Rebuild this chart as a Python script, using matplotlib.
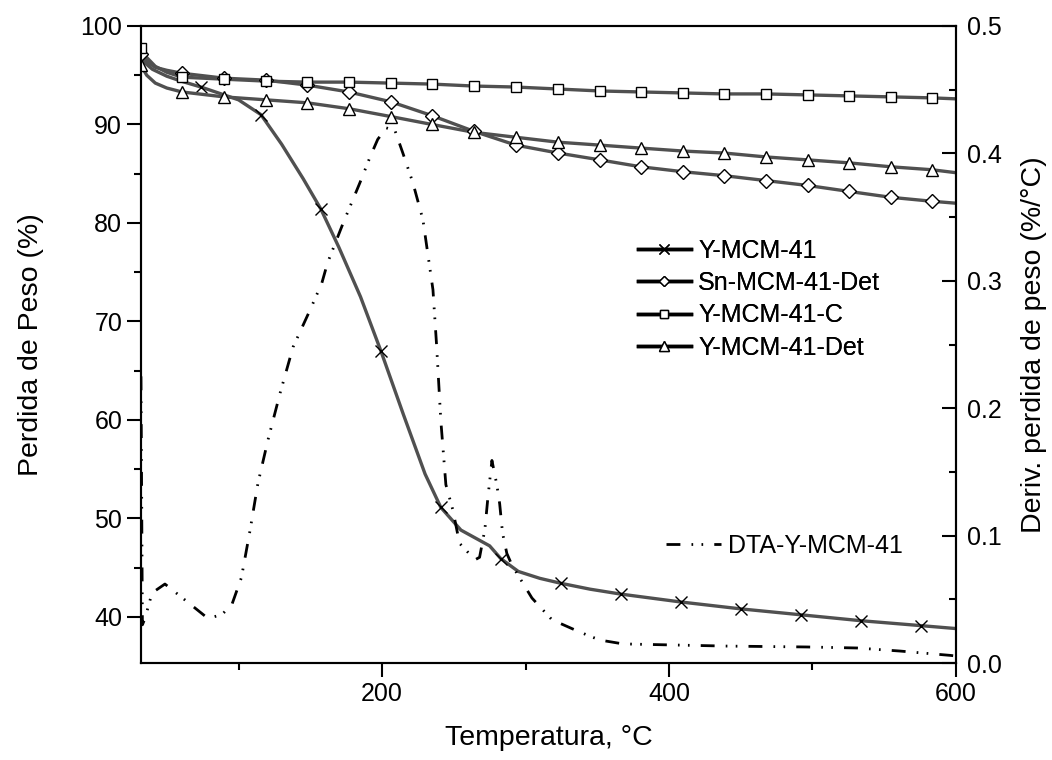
import matplotlib
matplotlib.use("Agg")
import matplotlib.pyplot as plt
from matplotlib.lines import Line2D
from matplotlib.ticker import MultipleLocator

plt.rcParams['font.family'] = ['Liberation Sans', 'DejaVu Sans']

# --- data (temperature in °C) ---
# Y-MCM-41, weight curve and its x markers
y41_t = [32, 40, 50, 60, 73.8, 90, 100, 115.6, 130, 145, 157.4, 170, 185, 199.2,
         215, 230, 241, 255, 270, 275, 282.8, 295, 310, 324.6, 345, 366.4, 408.2,
         450, 491.8, 533.6, 575.4, 600]
y41_w = [96.6, 95.6, 94.9, 94.4, 93.8, 93.0, 92.5, 91.0, 88.0, 84.5, 81.4, 77.5,
         72.5, 67.0, 60.5, 54.5, 51.1, 48.8, 47.6, 47.2, 45.9, 44.6, 43.9, 43.4,
         42.8, 42.3, 41.5, 40.8, 40.2, 39.6, 39.1, 38.8]
y41_mt = [73.8, 115.6, 157.4, 199.2, 241, 282.8, 324.6, 366.4, 408.2, 450, 491.8, 533.6, 575.4]
y41_mw = [93.8, 91.0, 81.4, 67.0, 51.1, 45.9, 43.4, 42.3, 41.5, 40.8, 40.2, 39.6, 39.1]

# the other three samples share marker temperatures
mk_t = [32, 60.6, 89.8, 119.1, 147.7, 176.9, 206.2, 234.8, 264.1, 293.3, 322.6,
        351.9, 380.4, 409.7, 438.3, 467.5, 496.8, 525.4, 554.6, 583.2]
sn_det = [97.2, 95.2, 94.7, 94.5, 94.0, 93.3, 92.3, 90.9, 89.3, 87.9, 87.1,
          86.4, 85.7, 85.2, 84.8, 84.3, 83.8, 83.2, 82.6, 82.2]
y41_c = [97.8, 94.8, 94.6, 94.4, 94.3, 94.3, 94.2, 94.1, 93.9, 93.8, 93.6,
         93.4, 93.3, 93.2, 93.1, 93.1, 93.0, 92.9, 92.8, 92.7]
y41_det = [96.0, 93.3, 92.8, 92.5, 92.2, 91.6, 90.8, 90.0, 89.2, 88.7, 88.2,
           87.9, 87.6, 87.3, 87.1, 86.7, 86.4, 86.1, 85.7, 85.4]
# early part of the curves (before first marker) and end value at 600 °C
early_t = [36, 42, 50]
sn_early = [96.4, 95.8, 95.5]
c_early = [96.8, 95.9, 95.3]
det_early = [95.0, 94.2, 93.7]
end_t = 600
sn_end, c_end, det_end = 82.0, 92.6, 85.1

# DTA-Y-MCM-41 (right axis, %/°C)
dta_t = [32, 33, 34.8, 39.7, 48.7, 61, 78.7, 88.4, 95.4, 102, 108, 113.5, 120.5,
         129, 138, 149.8, 158, 162, 172.8, 184.6, 191.6, 197, 203, 209, 214.6,
         221.5, 228.5, 235.5, 238, 241, 244.5, 249.4, 254, 264.8, 268, 271.7,
         273.8, 276.6, 280, 282, 284, 287, 290.5, 298, 304.5, 318.4, 334.4, 345,
         352, 368, 409.7, 440, 496, 531, 561, 596, 600]
dta_v = [0.225, 0.030, 0.035, 0.055, 0.062, 0.051, 0.035, 0.038, 0.046, 0.067,
         0.104, 0.141, 0.175, 0.212, 0.248, 0.277, 0.298, 0.314, 0.345, 0.377,
         0.397, 0.411, 0.420, 0.418, 0.400, 0.377, 0.348, 0.293, 0.250, 0.190,
         0.140, 0.120, 0.094, 0.081, 0.083, 0.105, 0.130, 0.159, 0.140, 0.125,
         0.102, 0.086, 0.077, 0.063, 0.051, 0.034, 0.026, 0.021, 0.018, 0.015,
         0.014, 0.0133, 0.0126, 0.0118, 0.0094, 0.006, 0.0055]

gray = '#505050'
dta_ls = (0, (5, 4, 0.6, 3, 0.6, 4))

fig = plt.figure(figsize=(10.52, 7.6), dpi=100)
ax = fig.add_axes([0.134, 0.1276, 0.7747, 0.8382])
ax2 = ax.twinx()

ax.plot(y41_t, y41_w, color=gray, lw=2.4)
ax.plot(y41_mt, y41_mw, ls='none', marker='x', ms=9, mew=1.0, color='black')

def tga(vals, early, end, marker, ms):
    t = [mk_t[0]] + early_t + mk_t[1:] + [end_t]
    w = [vals[0]] + early + vals[1:] + [end]
    ax.plot(t, w, color=gray, lw=2.4, zorder=2)
    ax.plot(mk_t, vals, ls='none', marker=marker, ms=ms, mfc='white', mec='black', mew=1.0, zorder=3)

tga(sn_det, sn_early, sn_end, 'D', 7)
tga(y41_c, c_early, c_end, 's', 7)
tga(y41_det, det_early, det_end, '^', 9)

ax2.plot(dta_t, dta_v, color='black', lw=2.0, ls=dta_ls)

ax.set_xlim(32, 600)
ax.set_ylim(35.3, 100)
ax2.set_ylim(0, 0.5)

ax.xaxis.set_major_locator(MultipleLocator(200))
ax.xaxis.set_minor_locator(MultipleLocator(100))
ax.yaxis.set_major_locator(MultipleLocator(10))
ax.yaxis.set_minor_locator(MultipleLocator(5))
ax2.yaxis.set_major_locator(MultipleLocator(0.1))
ax2.yaxis.set_minor_locator(MultipleLocator(0.05))
ax2.yaxis.set_major_formatter(plt.FormatStrFormatter('%.1f'))

ax.tick_params(which='major', direction='out', length=10, width=1.5, labelsize=18)
ax.tick_params(which='minor', direction='out', length=5, width=1.5)
ax2.tick_params(which='major', direction='in', length=10, width=1.5, labelsize=18, pad=8)
ax2.tick_params(which='minor', direction='in', length=5, width=1.5)
for a in (ax, ax2):
    for s in a.spines.values():
        s.set_linewidth(1.5)

ax.set_xlabel('Temperatura, °C', fontsize=20.5, labelpad=14)
ax.set_ylabel('Perdida de Peso (%)', fontsize=20.5, labelpad=26)
ax2.set_ylabel('Deriv. perdida de peso (%/°C)', fontsize=20.5, labelpad=14)

handles = [Line2D([], [], color='black', lw=2.5, marker='x', ms=7, mew=1, mec='black'),
           Line2D([], [], color='black', lw=2.5, marker='D', ms=5.5, mfc='white', mec='black'),
           Line2D([], [], color='black', lw=2.5, marker='s', ms=5.5, mfc='white', mec='black'),
           Line2D([], [], color='black', lw=2.5, marker='^', ms=7, mfc='white', mec='black')]
labels = ['Y-MCM-41', 'Sn-MCM-41-Det', 'Y-MCM-41-C', 'Y-MCM-41-Det']
leg = ax.legend(handles, labels, loc='upper left', bbox_to_anchor=(638 / 1052, 1 - 239 / 760),
                bbox_transform=fig.transFigure, frameon=False, fontsize=18,
                handlelength=2.1, handletextpad=0.3, labelspacing=0.33, borderpad=0,
                borderaxespad=0)
ax.add_artist(leg)

dta_h = [Line2D([], [], color='black', lw=2.0, ls=dta_ls)]
ax2.legend(dta_h, ['DTA-Y-MCM-41'], loc='upper left', bbox_to_anchor=(666 / 1052, 1 - 534 / 760),
           bbox_transform=fig.transFigure, frameon=False, fontsize=18,
           handlelength=2.2, handletextpad=0.3, borderpad=0, borderaxespad=0)

fig.savefig('out.png', dpi=100)
